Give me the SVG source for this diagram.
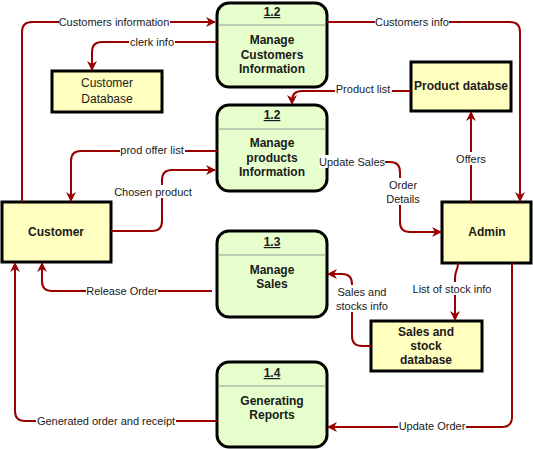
<svg xmlns="http://www.w3.org/2000/svg" width="533" height="449" viewBox="0 0 533 449">
<style>
text{font-family:"Liberation Sans",Arial,sans-serif;fill:#1a1a1a;text-anchor:middle}
.proc{fill:#e6ffcc;stroke:#000;stroke-width:3}
.box{fill:#ffffc0;stroke:#000;stroke-width:3}
.sep{stroke:#999;stroke-width:1}
.t{font-size:12px;font-weight:bold}
.n{font-size:12px}
.id{font-size:12px;font-weight:bold;text-decoration:underline}
.e{fill:none;stroke:#990000;stroke-width:2;marker-end:url(#arr)}
.lb{font-size:11px}
.bg{fill:#fff}
</style>
<defs>
<marker id="arr" viewBox="0 0 10 10" refX="9" refY="5" markerWidth="5" markerHeight="5" orient="auto" markerUnits="strokeWidth">
<path d="M0,0 L10,5 L0,10 L3,5 Z" fill="#990000"/>
</marker>
</defs>
<g id="p1">
<rect class="proc" x="217" y="3" width="110" height="84" rx="12"/>
<line class="sep" x1="218" y1="25" x2="326" y2="25"/>
<text class="id" x="272" y="16">1.2</text>
<text class="t" x="272" y="44">Manage</text>
<text class="t" x="272" y="59">Customers</text>
<text class="t" x="272" y="73">Information</text>
</g>
<g id="p2">
<rect class="proc" x="217" y="105" width="110" height="86" rx="12"/>
<line class="sep" x1="218" y1="129" x2="326" y2="129"/>
<text class="id" x="272" y="119">1.2</text>
<text class="t" x="272" y="147">Manage</text>
<text class="t" x="272" y="162">products</text>
<text class="t" x="272" y="176">Information</text>
</g>
<g id="p3">
<rect class="proc" x="217" y="231" width="110" height="86" rx="12"/>
<line class="sep" x1="218" y1="255" x2="326" y2="255"/>
<text class="id" x="272" y="246">1.3</text>
<text class="t" x="272" y="274">Manage</text>
<text class="t" x="272" y="288">Sales</text>
</g>
<g id="p4">
<rect class="proc" x="217" y="362" width="110" height="85" rx="12"/>
<line class="sep" x1="218" y1="386" x2="326" y2="386"/>
<text class="id" x="272" y="377">1.4</text>
<text class="t" x="272" y="405">Generating</text>
<text class="t" x="272" y="419">Reports</text>
</g>
<g id="custdb">
<rect class="box" x="52" y="71" width="110" height="41"/>
<text class="n" x="107" y="87">Customer</text>
<text class="n" x="107" y="103">Database</text>
</g>
<g id="proddb">
<rect class="box" x="411" y="62" width="100" height="49"/>
<text class="t" x="461" y="90">Product databse</text>
</g>
<g id="customer">
<rect class="box" x="2" y="202" width="109" height="60"/>
<text class="t" x="56" y="236">Customer</text>
</g>
<g id="admin">
<rect class="box" x="442" y="202" width="89" height="61"/>
<text class="t" x="487" y="236">Admin</text>
</g>
<g id="salesdb">
<rect class="box" x="371" y="321" width="111" height="50"/>
<text class="t" x="426" y="336">Sales and</text>
<text class="t" x="426" y="350">stock</text>
<text class="t" x="426" y="364">database</text>
</g>
<g id="connectors">
<path class="e" d="M22,202 V32 Q22,22 32,22 H215"/>
<path class="e" d="M217,42 H102 Q92,42 92,52 V70"/>
<path class="e" d="M327,22 H510 Q520,22 520,32 V201"/>
<path class="e" d="M411,91 H302 Q292,91 292,101 V104"/>
<path class="e" d="M471,202 V112"/>
<path class="e" d="M217,151 H81 Q71,151 71,161 V201"/>
<path class="e" d="M111,231 H152 Q162,231 162,221 V180 Q162,170 172,170 H215"/>
<path class="e" d="M327,162 H390 Q400,162 400,172 V222 Q400,232 410,232 H441"/>
<path class="e" d="M212,291 H52 Q42,291 42,281 V263"/>
<path class="e" d="M217,421 H25 Q15,421 15,411 V263"/>
<path class="e" d="M512,263 V417 Q512,427 502,427 H328"/>
<path class="e" d="M458,263 C458,271 455,270 455,278 V320"/>
<path class="e" d="M371,346 H362 Q352,346 352,336 V284 Q352,274 342,274 H328"/>
<rect class="bg" x="59" y="15" width="111" height="13"/>
<text class="lb" x="114" y="26">Customers information</text>
<rect class="bg" x="129" y="35" width="46" height="13"/>
<text class="lb" x="152" y="46">clerk info</text>
<rect class="bg" x="375" y="15" width="74" height="13"/>
<text class="lb" x="412" y="26">Customers info</text>
<rect class="bg" x="335" y="82" width="57" height="13"/>
<text class="lb" x="363" y="93">Product list</text>
<rect class="bg" x="453" y="152" width="36" height="13"/>
<text class="lb" x="471" y="163">Offers</text>
<rect class="bg" x="120" y="143" width="65" height="13"/>
<text class="lb" x="152" y="154">prod offer list</text>
<rect class="bg" x="113" y="185" width="80" height="13"/>
<text class="lb" x="153" y="196">Chosen product</text>
<rect class="bg" x="319" y="155" width="66" height="13"/>
<text class="lb" x="352" y="166">Update Sales</text>
<rect class="bg" x="384" y="178" width="38" height="27"/>
<text class="lb" x="403" y="189">Order</text>
<text class="lb" x="403" y="203">Details</text>
<rect class="bg" x="86" y="284" width="72" height="13"/>
<text class="lb" x="122" y="295">Release Order</text>
<rect class="bg" x="36" y="414" width="140" height="13"/>
<text class="lb" x="106" y="425">Generated order and receipt</text>
<rect class="bg" x="398" y="419" width="68" height="13"/>
<text class="lb" x="432" y="430">Update Order</text>
<rect class="bg" x="412" y="282" width="80" height="13"/>
<text class="lb" x="452" y="293">List of stock info</text>
<rect class="bg" x="336" y="285" width="52" height="27"/>
<text class="lb" x="362" y="296">Sales and</text>
<text class="lb" x="362" y="310">stocks info</text>
</g>
</svg>
